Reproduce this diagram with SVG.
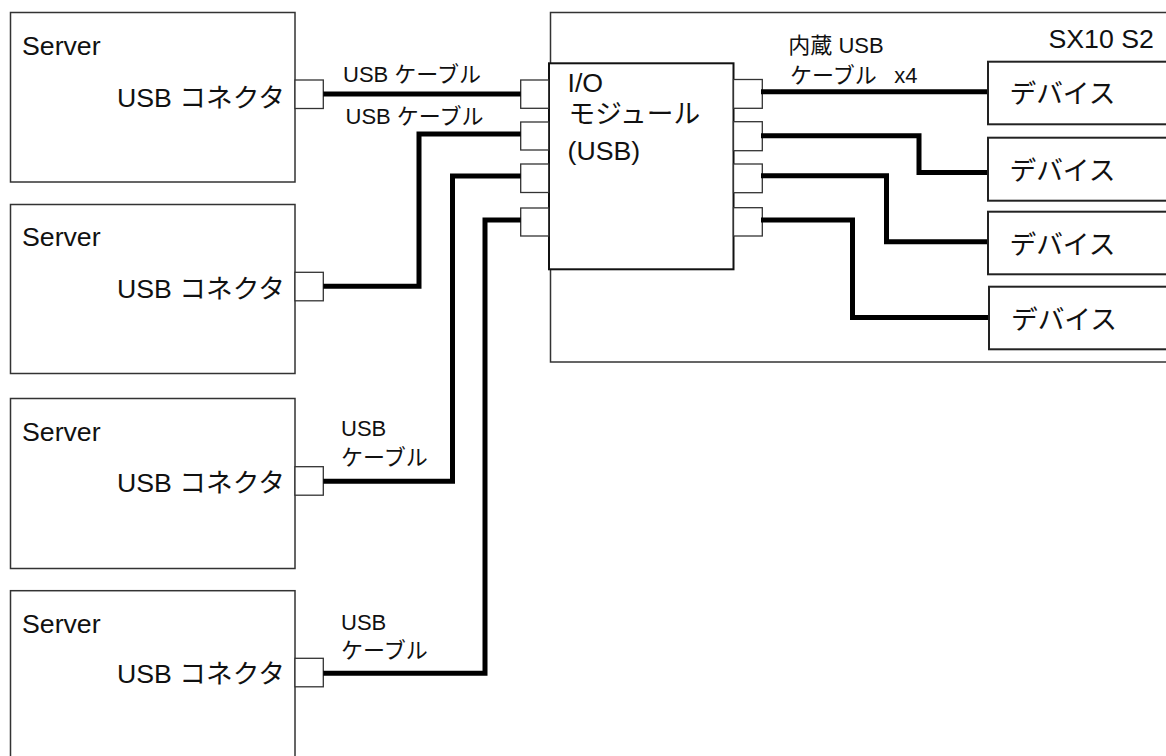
<svg xmlns="http://www.w3.org/2000/svg" width="1166" height="756" viewBox="0 0 1166 756">
<style>
  .box{fill:#fff;stroke:#333;stroke-width:1.5}
  .dev{fill:#fff;stroke:#222;stroke-width:2}
  .io{fill:#fff;stroke:#111;stroke-width:2}
  .sq{fill:#fff;stroke:#333;stroke-width:1.3}
  .cable{fill:none;stroke:#000;stroke-width:5;stroke-linejoin:miter;stroke-linecap:butt}
  text{font-family:"Liberation Sans","Noto Sans CJK JP",sans-serif;fill:#111}
  .big{font-size:26.7px}
  .sm{font-size:22px}
</style>
<rect width="1166" height="756" fill="#fff"/>

<g id="sx10">
  <rect class="box" x="550.5" y="12.5" width="640" height="349.5"/>
  <text class="big" x="1048.5" y="47.5">SX10 S2</text>
</g>

<g id="server1">
  <rect class="box" x="10.5" y="12.5" width="284.5" height="169.5"/>
  <text class="big" x="22" y="55">Server</text>
  <text class="big" x="117" y="107">USB コネクタ</text>
  <rect class="sq" x="295" y="80" width="28.3" height="28.5"/>
</g>
<g id="server2">
  <rect class="box" x="10.5" y="204.5" width="284.5" height="169"/>
  <text class="big" x="22" y="246">Server</text>
  <text class="big" x="117" y="298.3">USB コネクタ</text>
  <rect class="sq" x="295" y="272.3" width="28.3" height="28.5"/>
</g>
<g id="server3">
  <rect class="box" x="10.5" y="398.5" width="284.5" height="170"/>
  <text class="big" x="22" y="440.7">Server</text>
  <text class="big" x="117" y="491.7">USB コネクタ</text>
  <rect class="sq" x="295" y="466.7" width="28.3" height="28.5"/>
</g>
<g id="server4">
  <rect class="box" x="10.5" y="590.7" width="284.5" height="180"/>
  <text class="big" x="22" y="632.7">Server</text>
  <text class="big" x="117" y="683.3">USB コネクタ</text>
  <rect class="sq" x="295" y="658.3" width="28.3" height="28.5"/>
</g>

<g id="io-module">
  <rect class="io" x="549" y="63.3" width="184.5" height="206"/>
  <rect class="sq" x="520.7" y="80" width="28" height="28.3"/>
  <rect class="sq" x="520.7" y="122" width="28" height="28"/>
  <rect class="sq" x="520.7" y="164" width="28" height="28.5"/>
  <rect class="sq" x="520.7" y="208" width="28" height="28"/>
  <rect class="sq" x="733.5" y="79.5" width="28.8" height="28.8"/>
  <rect class="sq" x="733.5" y="121.7" width="28.8" height="29"/>
  <rect class="sq" x="733.5" y="164" width="28.8" height="28.7"/>
  <rect class="sq" x="733.5" y="207.7" width="28.8" height="28.3"/>
  <text class="big" x="567.5" y="91.7">I/O</text>
  <text class="big" x="568.5" y="123.3">モジュール</text>
  <text class="big" x="567.5" y="160">(USB)</text>
</g>

<g id="connectors">
  <path class="cable" d="M323.3,94 H520.7"/>
  <path class="cable" d="M323.3,286.3 H419 V134 H520.7"/>
  <path class="cable" d="M323.3,481.3 H452.5 V176 H520.7"/>
  <path class="cable" d="M323.3,673.3 H485 V220 H520.7"/>
  <path class="cable" d="M761,91.8 H988"/>
  <path class="cable" d="M761,135.8 H919 V172.5 H988"/>
  <path class="cable" d="M761,175.7 H886.5 V241.7 H988"/>
  <path class="cable" d="M761,220 H852.5 V317.5 H989"/>
</g>

<g id="device1">
  <rect class="dev" x="988" y="61.7" width="200" height="62.6"/>
  <text class="big" x="1009.5" y="103.3">デバイス</text>
</g>
<g id="device2">
  <rect class="dev" x="988" y="137.7" width="200" height="63"/>
  <text class="big" x="1009.5" y="180">デバイス</text>
</g>
<g id="device3">
  <rect class="dev" x="988" y="211.7" width="200" height="62.6"/>
  <text class="big" x="1009.5" y="253.7">デバイス</text>
</g>
<g id="device4">
  <rect class="dev" x="989" y="286.7" width="200" height="62.6"/>
  <text class="big" x="1011" y="328.7">デバイス</text>
</g>

<g id="labels">
  <text class="sm" x="343" y="82.3">USB ケーブル</text>
  <text class="sm" x="345.5" y="124.3">USB ケーブル</text>
  <text class="sm" x="341" y="436">USB</text>
  <text class="sm" x="341" y="465">ケーブル</text>
  <text class="sm" x="341" y="630">USB</text>
  <text class="sm" x="341" y="658">ケーブル</text>
  <text class="sm" x="788.3" y="52.7">内蔵 USB</text>
  <text class="sm" x="790" y="82.7">ケーブル<tspan x="894.3">x4</tspan></text>
</g>
</svg>
